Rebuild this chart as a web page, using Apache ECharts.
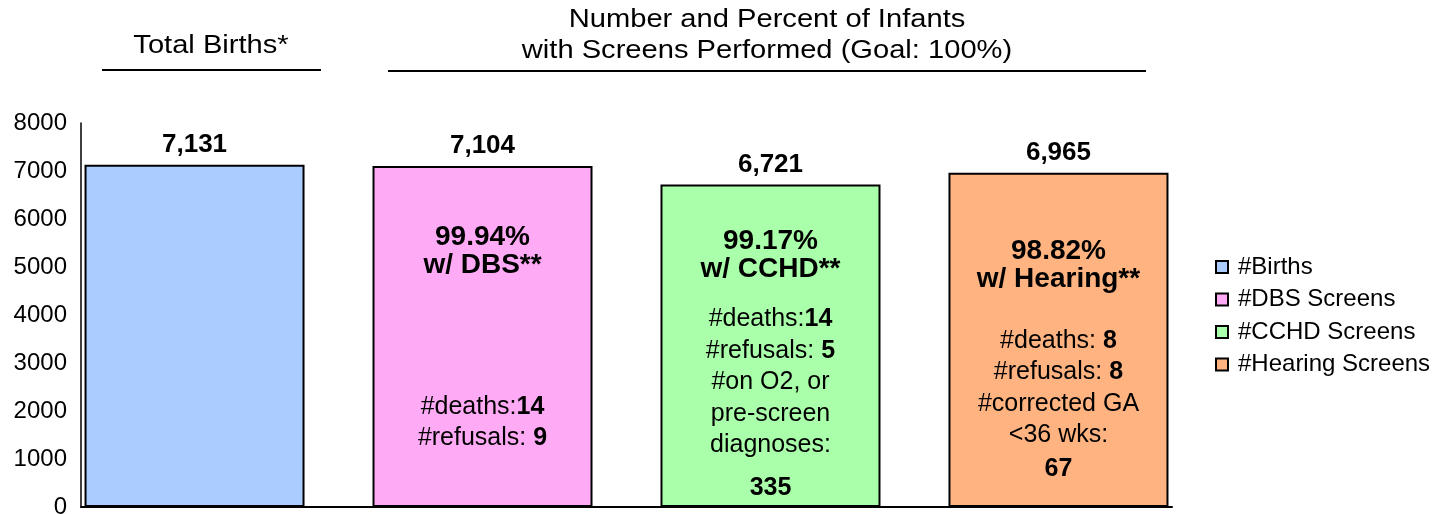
<!DOCTYPE html>
<html>
<head>
<meta charset="utf-8">
<title>Newborn screens</title>
<script src="https://cdn.jsdelivr.net/npm/echarts@6/dist/echarts.min.js"></script>
<style>
  html, body { margin: 0; padding: 0; background: #fff; }
  #chart { width: 1455px; height: 514px; }
</style>
</head>
<body>
<div id="chart"></div>
<script>
// chart data
const seriesNames = ["#Births", "#DBS Screens", "#CCHD Screens", "#Hearing Screens"];
const counts = [7131, 7104, 6721, 6965];
const percentLabels = [null, "99.94%", "99.17%", "98.82%"];
const screenNames = [null, "DBS", "CCHD", "Hearing"];
const deathLabels = [null, "#deaths:", "#deaths:", "#deaths: "];
const deaths = [null, 14, 14, 8];
const refusals = [null, 9, 5, 8];
const exclusionLabels = [null, null, ["#on O2, or", "pre-screen", "diagnoses:"], ["#corrected GA", "<36 wks:"]];
const exclusionCounts = [null, null, 335, 67];
const yTicks = [0, 1000, 2000, 3000, 4000, 5000, 6000, 7000, 8000];

const colors = ["#aaccff", "#ffaaf5", "#aaffaa", "#ffb380"];
const FONT = "'Liberation Sans', Arial, sans-serif";

// where the text lines sit inside each bar (px below the bar top)
const textPlace = [
  {},
  { head: 71, notes: 241 },
  { head: 57, notes: 135, count: 304 },
  { head: 79, notes: 168, count: 296 },
];

const HEAD_H = 28;
const NOTE_H = 31.5;

function buildLabel(i) {
  const rows = [];
  rows.push({ str: "{val|" + counts[i].toLocaleString("en-US") + "}", center: -20, h: 30 });
  const p = textPlace[i];
  if (percentLabels[i]) {
    rows.push({ str: "{head|" + percentLabels[i] + "}", center: p.head, h: HEAD_H });
    rows.push({ str: "{head|w/ " + screenNames[i] + "**}", center: p.head + HEAD_H, h: HEAD_H });
    let c = p.notes;
    rows.push({ str: "{t|" + deathLabels[i] + "}{tb|" + deaths[i] + "}", center: c, h: NOTE_H });
    c += NOTE_H;
    rows.push({ str: "{t|#refusals: }{tb|" + refusals[i] + "}", center: c, h: NOTE_H });
    (exclusionLabels[i] || []).forEach((s) => {
      c += NOTE_H;
      rows.push({ str: "{t|" + s + "}", center: c, h: NOTE_H });
    });
    if (exclusionCounts[i] != null) {
      rows.push({ str: "{tb|" + exclusionCounts[i] + "}", center: p.count, h: NOTE_H });
    }
  }
  const rich = {
    val: { fontFamily: FONT, fontSize: 26, fontWeight: "bold", color: "#000", lineHeight: 30 },
    head: { fontFamily: FONT, fontSize: 28, fontWeight: "bold", color: "#000", lineHeight: HEAD_H },
    t: { fontFamily: FONT, fontSize: 25, color: "#000", lineHeight: NOTE_H },
    tb: { fontFamily: FONT, fontSize: 25, fontWeight: "bold", color: "#000", lineHeight: NOTE_H },
  };
  const lines = [];
  const top = rows[0].center - rows[0].h / 2;
  let cursor = top;
  rows.forEach((r, k) => {
    const rTop = r.center - r.h / 2;
    if (rTop - cursor > 0.5) {
      rich["sp" + k] = { fontSize: 1, lineHeight: rTop - cursor };
      lines.push("{sp" + k + "| }");
    }
    lines.push(r.str);
    cursor = rTop + r.h;
  });
  return {
    show: true,
    position: "insideTop",
    distance: 0,
    offset: [0, top],
    formatter: lines.join("\n"),
    rich: rich,
  };
}

const series = seriesNames.map((name, i) => ({
  name: name,
  type: "bar",
  data: [counts[i]],
  barWidth: 220,
  barGap: "30.9%",
  itemStyle: { color: colors[i], borderColor: "#000", borderWidth: 2 },
  label: buildLabel(i),
  emphasis: { disabled: true },
}));

// titles over the bars are drawn a little wide, like the original
function titleText(str, x, y) {
  return {
    type: "text", x: x, y: y, scaleX: 1.12,
    style: { text: str, font: "26px " + FONT, fill: "#000", align: "center", verticalAlign: "middle" },
  };
}

const chart = echarts.init(document.getElementById("chart"));
chart.setOption({
  animation: false,
  grid: { left: 81, right: 283, top: 123, bottom: 7, outerBoundsMode: "none" },
  xAxis: {
    type: "category",
    data: [""],
    axisLine: { lineStyle: { color: "#000", width: 2 } },
    axisTick: { show: false },
    axisLabel: { show: false },
  },
  yAxis: {
    type: "value",
    min: yTicks[0],
    max: yTicks[yTicks.length - 1],
    interval: yTicks[1] - yTicks[0],
    axisLine: { show: true, lineStyle: { color: "#000", width: 1.5 } },
    axisTick: { show: false },
    splitLine: { show: false },
    axisLabel: {
      color: "#000", fontSize: 24, fontFamily: FONT, margin: 14,
      formatter: (v) => String(v),
    },
  },
  legend: {
    data: seriesNames,
    orient: "vertical",
    left: 1210,
    top: 250,
    icon: "rect",
    itemWidth: 12,
    itemHeight: 12,
    itemGap: 8.5,
    selectedMode: false,
    textStyle: { color: "#000", fontSize: 24, fontFamily: FONT, lineHeight: 24, padding: [0, 0, 0, 5] },
  },
  graphic: [
    titleText("Total Births*", 211, 46),
    { type: "line", shape: { x1: 102, y1: 70, x2: 321, y2: 70 }, style: { stroke: "#000", lineWidth: 2 } },
    titleText("Number and Percent of Infants", 767, 20),
    titleText("with Screens Performed (Goal: 100%)", 767, 51),
    { type: "line", shape: { x1: 388, y1: 71, x2: 1146, y2: 71 }, style: { stroke: "#000", lineWidth: 2 } },
  ],
  series: series,
});

window.onresize = function () {
  chart.resize();
};
</script>
</body>
</html>
